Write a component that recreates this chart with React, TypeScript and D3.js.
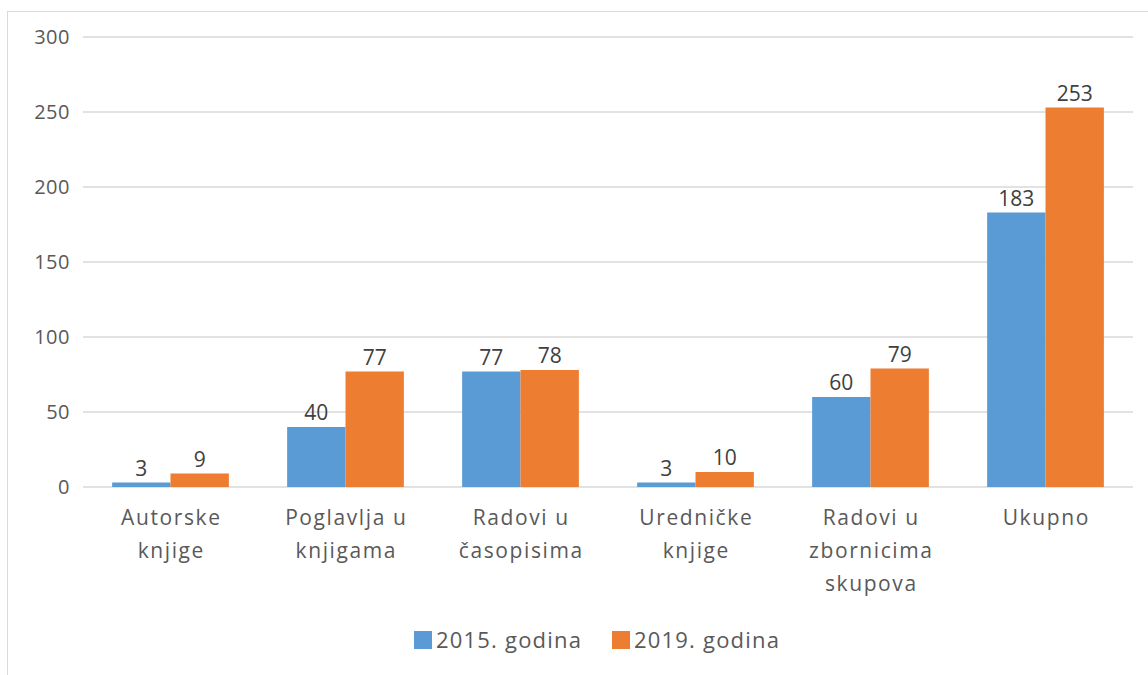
import React from "react";
import * as d3 from "d3";

const categories: string[][] = [
  ["Autorske", "knjige"],
  ["Poglavlja u", "knjigama"],
  ["Radovi u", "časopisima"],
  ["Uredničke", "knjige"],
  ["Radovi u", "zbornicima", "skupova"],
  ["Ukupno"],
];
const seriesNames = ["2015. godina", "2019. godina"];
const values2015 = [3, 40, 77, 3, 60, 183];
const values2019 = [9, 77, 78, 10, 79, 253];
const yTicks = [0, 50, 100, 150, 200, 250, 300];
const colors = ["#5B9BD5", "#ED7D31"];

const W = 1148;
const H = 675;
const left = 83;
const right = 1133;
const top = 37;
const bottom = 487;
const FONT = "'Open Sans', sans-serif";

export default function App() {
  const x0 = d3
    .scaleBand<number>()
    .domain(categories.map((_, i) => i))
    .range([left, right])
    .paddingInner(0.333)
    .paddingOuter(0.1665);
  const x1 = d3.scaleBand<number>().domain([0, 1]).range([0, x0.bandwidth()]);
  const y = d3.scaleLinear().domain([0, 300]).range([bottom, top]);
  const series = [values2015, values2019];

  return (
    <svg
      width={W}
      height={H}
      style={{ position: "absolute", left: 0, top: 0, background: "#fff" }}
      fontFamily={FONT}
    >
      <rect x={7.5} y={11.5} width={W + 10} height={H + 10} fill="none" stroke="#D9D9D9" />
      {yTicks.map((t) => (
        <g key={t}>
          <line x1={left} x2={right} y1={y(t)} y2={y(t)} stroke="#D9D9D9" strokeWidth={1.5} />
          <text x={70} y={y(t)} dy="0.35em" textAnchor="end" fontSize={20} fill="#595959" letterSpacing={0.5}>
            {t}
          </text>
        </g>
      ))}
      {series.map((vals, s) =>
        vals.map((v, i) => {
          const bx = (x0(i) as number) + (x1(s) as number);
          const bw = x1.bandwidth();
          return (
            <g key={`${s}-${i}`}>
              <rect x={bx} y={y(v)} width={bw} height={y(0) - y(v)} fill={colors[s]} />
              <text
                x={bx + bw / 2}
                y={y(v) - 7}
                textAnchor="middle"
                fontSize={21}
                fill="#404040"
              >
                {v}
              </text>
            </g>
          );
        })
      )}
      {categories.map((lines, i) => (
        <text
          key={i}
          x={(x0(i) as number) + x0.bandwidth() / 2}
          textAnchor="middle"
          fontSize={21}
          fill="#595959"
          letterSpacing={1.6}
        >
          {lines.map((l, j) => (
            <tspan key={j} x={(x0(i) as number) + x0.bandwidth() / 2 + 0.8} y={525 + j * 33}>
              {l}
            </tspan>
          ))}
        </text>
      ))}
      {seriesNames.map((n, s) => {
        const lx = [414, 612][s];
        return (
          <g key={n}>
            <rect x={lx} y={631} width={18} height={18} fill={colors[s]} />
            <text x={lx + 22} y={640} dy="0.35em" fontSize={22} fill="#595959" letterSpacing={1.2}>
              {n}
            </text>
          </g>
        );
      })}
    </svg>
  );
}
